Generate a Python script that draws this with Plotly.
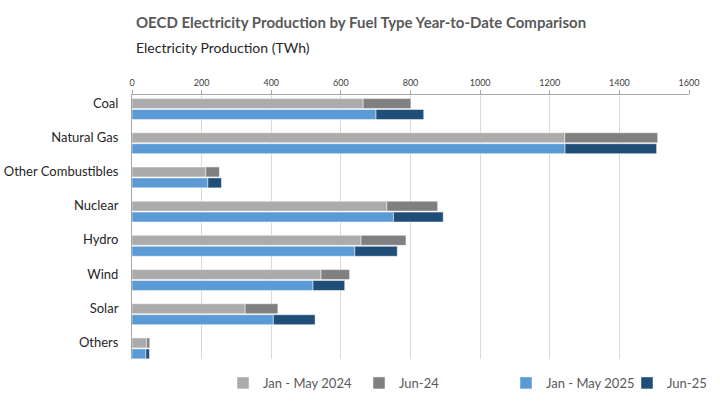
import plotly.graph_objects as go

categories = ["Coal", "Natural Gas", "Other Combustibles", "Nuclear", "Hydro", "Wind", "Solar", "Others"]
jan_may_2024 = [664, 1243, 212, 732, 658, 543, 325, 42]
jun_2024 = [137, 267, 39, 146, 129, 82, 94, 9]
jan_may_2025 = [701, 1244, 218, 751, 640, 520, 406, 40]
jun_2025 = [137, 263, 39, 143, 122, 91, 120, 10]
x_ticks = [0, 200, 400, 600, 800, 1000, 1200, 1400, 1600]

font_family = "Lato, 'Open Sans', sans-serif"
edge = dict(color="rgba(255,255,255,0.6)", width=0.8)

fig = go.Figure()
fig.add_trace(go.Bar(y=categories, x=jan_may_2024, orientation="h", name="Jan - May 2024",
                     offsetgroup="a", legend="legend", marker=dict(color="#ababab", line=edge)))
fig.add_trace(go.Bar(y=categories, x=jun_2024, base=jan_may_2024, orientation="h", name="Jun-24",
                     offsetgroup="a", legend="legend2", marker=dict(color="#808080", line=edge)))
fig.add_trace(go.Bar(y=categories, x=jan_may_2025, orientation="h", name="Jan - May 2025",
                     offsetgroup="b", legend="legend3", marker=dict(color="#5b9bd5", line=edge)))
fig.add_trace(go.Bar(y=categories, x=jun_2025, base=jan_may_2025, orientation="h", name="Jun-25",
                     offsetgroup="b", legend="legend4", marker=dict(color="#1f4e79", line=edge)))


def legend_at(px_left):
    return dict(orientation="h", xref="container", x=px_left / 720, xanchor="left",
                yref="container", y=21 / 404, yanchor="middle", itemwidth=30,
                bgcolor="rgba(0,0,0,0)", font=dict(size=13, color="#595959"))


fig.update_layout(
    width=720, height=404,
    margin=dict(l=132, r=31, t=95, b=45, autoexpand=False),
    paper_bgcolor="white", plot_bgcolor="white",
    barmode="group", bargap=0.36, bargroupgap=0.09,
    font=dict(family=font_family, color="#404040"),
    showlegend=True,
    legend=legend_at(223),
    legend2=legend_at(359),
    legend3=legend_at(506),
    legend4=legend_at(627),
    xaxis=dict(range=[0, 1600], side="top", tickvals=x_ticks, ticktext=[str(v) for v in x_ticks],
               showgrid=True, gridcolor="#d9d9d9", gridwidth=1,
               showline=True, linecolor="#a6a6a6", linewidth=1,
               ticks="outside", ticklen=4, tickcolor="#a6a6a6", ticklabelstandoff=0,
               tickfont=dict(size=9, color="#404040"), zeroline=False, fixedrange=True),
    yaxis=dict(type="category", range=[7.31, -0.41], showgrid=False,
               showline=True, linecolor="#a6a6a6", linewidth=1,
               ticks="", tickfont=dict(size=13, color="#262626"), ticklabelstandoff=10,
               ticklabelshift=6),
    annotations=[
        dict(text="<b>OECD Electricity Production by Fuel Type Year-to-Date Comparison</b>",
             xref="paper", yref="paper", x=0, xshift=2, y=1, yshift=73, xanchor="left", yanchor="middle",
             showarrow=False, font=dict(size=15, color="#595959")),
        dict(text="Electricity Production (TWh)",
             xref="paper", yref="paper", x=0, xshift=2, y=1, yshift=48, xanchor="left", yanchor="middle",
             showarrow=False, font=dict(size=14, color="#262626")),
    ],
)

fig.write_html("out.html", config={"displayModeBar": False},
               post_script="document.body.style.margin='0';")
